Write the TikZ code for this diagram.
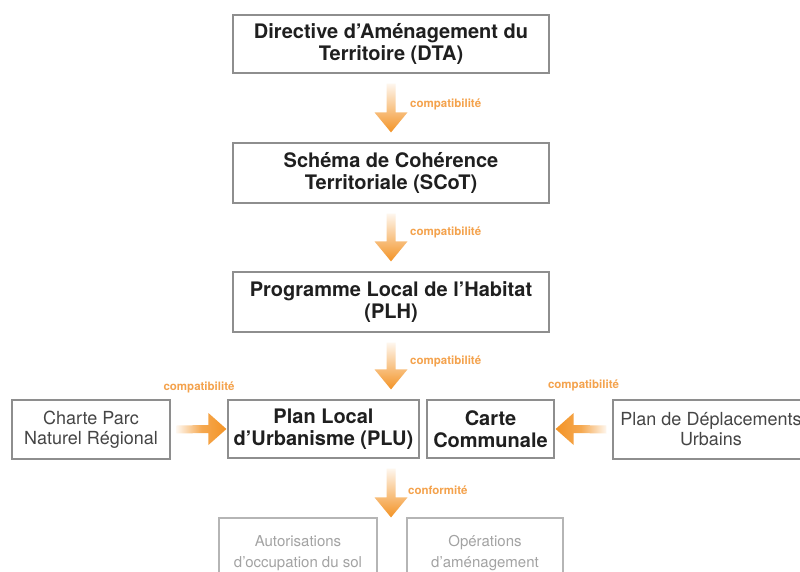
\documentclass[tikz,border=0pt]{standalone}
\usepackage{fontspec}
\setmainfont{TeX Gyre Heros}
\usetikzlibrary{calc}

\definecolor{orangefleche}{HTML}{F39325}
\definecolor{orangetexte}{HTML}{F4A24C}
\definecolor{grisbord}{HTML}{8E8E8E}
\definecolor{gristexte}{HTML}{454545}
\definecolor{grisclair}{HTML}{A3A3A3}

% Flèche épaisse dégradée vers le bas : #1 écart à l'arrivée, #2 départ, #3 arrivée
\newcommand{\flechebas}[3][10]{%
  \path[flechev] ($(#2)+(-4.5,10)$) -- ($(#3)+(-4.5,-#1-20)$) -- ($(#3)+(-16.5,-#1-20)$)
    -- ($(#3)+(0,-#1)$) -- ($(#3)+(16.5,-#1-20)$) -- ($(#3)+(4.5,-#1-20)$)
    -- ($(#2)+(4.5,10)$) -- cycle;}
% Flèche horizontale : #1 départ, #2 arrivée, #3 sens (1 vers la droite, -1 vers la gauche)
\newcommand{\flechehoriz}[3]{%
  \path[flecheh#3] ($(#1)+(#3*6,-4)$) -- ($(#2)+(-#3*19,-4)$) -- ($(#2)+(-#3*19,-16)$)
    -- ($(#2)+(-#3,0)$) -- ($(#2)+(-#3*19,16)$) -- ($(#2)+(-#3*19,4)$)
    -- ($(#1)+(#3*6,4)$) -- cycle;}

\begin{document}
\begin{tikzpicture}[x=1pt,y=-1pt,
    boite/.style={draw=grisbord, line width=1.2pt, align=center, inner sep=0pt,
      font=\fontsize{20}{22}\selectfont\bfseries, text=black!88},
    annexe/.style={boite, font=\fontsize{18}{20}\selectfont, text=gristexte},
    aval/.style={boite, draw=grisclair!80, font=\fontsize{15}{21}\selectfont, text=grisclair},
    flechev/.style={shading=axis, top color=orangefleche!8, middle color=orangefleche!80,
      bottom color=orangefleche},
    flecheh1/.style={left color=orangefleche!8, right color=orangefleche,
      middle color=orangefleche!80},
    flecheh-1/.style={left color=orangefleche, right color=orangefleche!8,
      middle color=orangefleche!80},
    lien/.style={text=orangetexte, font=\fontsize{11.5}{12}\selectfont\bfseries, inner sep=0pt}]

    % Cadre de l'image
    \clip (0,0) rectangle (800,572);
    \fill[white] (0,0) rectangle (800,572);

    % Documents de planification
    \node[boite, minimum width=316, minimum height=58] (dta) at (391,44)
      {Directive d’Aménagement du\\Territoire (DTA)};
    \node[boite, minimum width=316, minimum height=60] (scot) at (391,173)
      {Schéma de Cohérence\\Territoriale (SCoT)};
    \node[boite, minimum width=316, minimum height=60] (plh) at (391,302)
      {Programme Local de l’Habitat\\(PLH)};
    \node[boite, minimum width=191, minimum height=58] (plu) at (323.5,429)
      {Plan Local\\d’Urbanisme (PLU)};
    \node[boite, minimum width=127, minimum height=58] (carte) at (490.5,429)
      {Carte\\Communale};

    % Documents annexes
    \node[annexe, minimum width=158, minimum height=59] (charte) at (91,429.5)
      {Charte Parc\\Naturel Régional};
    \node[annexe, minimum width=196, minimum height=59] (pdu) at (711,429.5)
      {Plan de Déplacements\\Urbains};

    % Actes en aval
    \node[aval, minimum width=158, minimum height=70] (autor) at (298,553)
      {Autorisations\\d’occupation du sol};
    \node[aval, minimum width=156, minimum height=70] (operations) at (485,553)
      {Opérations\\d’aménagement};

    % Flèches
    \flechebas{dta.south}{scot.north}
    \flechebas{scot.south}{plh.north}
    \flechebas{plh.south}{plh.south |- plu.north}
    \flechebas[0]{plh.south |- plu.south}{plh.south |- autor.north}
    \flechehoriz{charte.east}{plu.west}{1}
    \flechehoriz{pdu.west}{carte.east}{-1}

    % Libellés des liens
    \node[lien, anchor=west] (l1) at ($(dta.south)!.5!(scot.north)+(19,-4)$) {compatibilité};
    \node[lien, anchor=west] (l2) at ($(scot.south)!.5!(plh.north)+(19,-5)$) {compatibilité};
    \node[lien, anchor=west] (l3) at ($(plh.south)!.5!(plh.south |- plu.north)+(19,-5)$) {compatibilité};
    \node[lien, anchor=west] (l4) at ($(plh.south |- plu.south)!.5!(plh.south |- autor.north)+(17,2)$) {conformité};
    \node[lien] (l5) at ($(charte.east)!.5!(plu.west)+(0,-42)$) {compatibilité};
    \node[lien] (l6) at ($(pdu.west)!.5!(carte.east)+(0,-44)$) {compatibilité};

\end{tikzpicture}
\end{document}
